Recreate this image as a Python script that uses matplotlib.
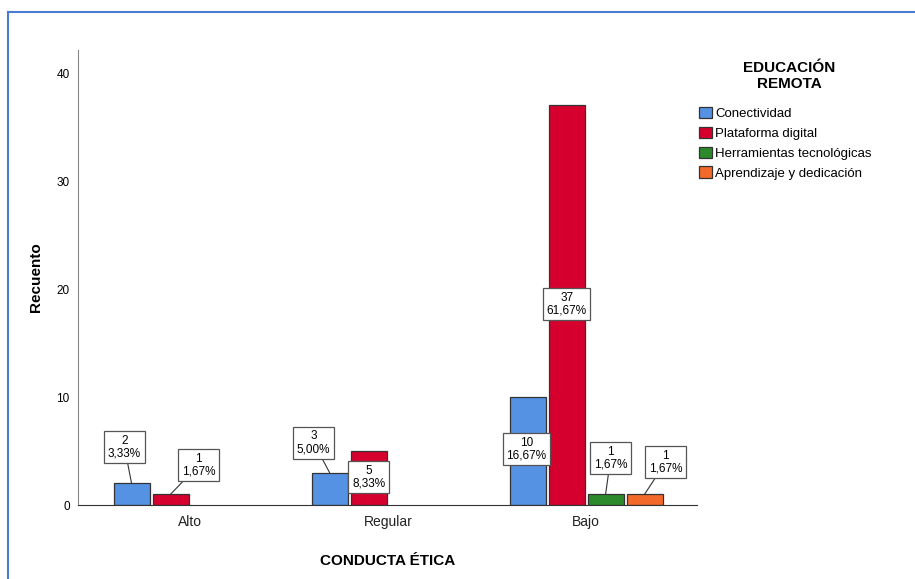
import matplotlib
matplotlib.use("Agg")
import matplotlib.pyplot as plt
from matplotlib.lines import Line2D
from matplotlib.patches import Patch

plt.rcParams['font.family'] = ['Liberation Sans', 'DejaVu Sans']

categories = ["Alto", "Regular", "Bajo"]
series = ["Conectividad", "Plataforma digital", "Herramientas tecnológicas", "Aprendizaje y dedicación"]
colors = ["#5592e3", "#d6002f", "#2c8a2c", "#f2692a"]

conectividad = [2, 3, 10]
plataforma = [1, 5, 37]
herramientas = [0, 0, 1]
aprendizaje = [0, 0, 1]
counts = [conectividad, plataforma, herramientas, aprendizaje]

pct_conectividad = ["3,33%", "5,00%", "16,67%"]
pct_plataforma = ["1,67%", "8,33%", "61,67%"]
pct_herramientas = ["", "", "1,67%"]
pct_aprendizaje = ["", "", "1,67%"]
pcts = [pct_conectividad, pct_plataforma, pct_herramientas, pct_aprendizaje]

# label box offsets (pixels, from bar top) and whether a leader line is drawn
label_offsets = {
    (0, 0): ((-7, 36), True), (1, 0): ((28, 29), True),
    (0, 1): ((-16, 30), True), (1, 1): ((0, -26), False),
    (0, 2): ((-1, -52), False), (1, 2): ((0, -199), False),
    (2, 2): ((5, 36), True), (3, 2): ((21, 32), True),
}

fig = plt.figure(figsize=(9.15, 5.79), dpi=100)
ax = fig.add_axes([78 / 915, 1 - 505 / 579, (697 - 78) / 915, (505 - 50) / 579])

slot = 39 / 198
width = 36 / 198
for j, (vals, col) in enumerate(zip(counts, colors)):
    for i, v in enumerate(vals):
        if v <= 0:
            continue
        x = i + (j - 1.5) * slot
        ax.bar(x, v, width=width, color=col, edgecolor="#333333", linewidth=0.9, zorder=2)
        (dx, dy), line = label_offsets[(j, i)]
        ax.annotate(f"{v}\n{pcts[j][i]}", xy=(x, v), xytext=(dx, dy),
                    textcoords="offset pixels", ha="center", va="center",
                    fontsize=8.5, linespacing=1.1, zorder=4,
                    bbox=dict(boxstyle="square,pad=0.3", fc="white", ec="#555555", lw=0.9),
                    arrowprops=dict(arrowstyle="-", color="#333333", lw=0.8, shrinkA=0, shrinkB=0) if line else None)

ax.set_xlim(-0.566, 2.56)
ax.set_ylim(0, 42.13)
ax.set_xticks(range(len(categories)))
ax.set_xticklabels(categories, fontsize=10, color="#222222")
ax.set_yticks([0, 10, 20, 30, 40])
ax.tick_params(axis="y", length=0, labelsize=8.5, pad=6)
ax.tick_params(axis="x", length=0, pad=7)
for s in ["top", "right"]:
    ax.spines[s].set_visible(False)
ax.spines["left"].set_color("#888888")
ax.spines["bottom"].set_color("#333333")
ax.set_ylabel("Recuento", fontsize=11, fontweight="bold", labelpad=10)
ax.set_xlabel("CONDUCTA ÉTICA", fontsize=11, fontweight="bold", labelpad=18)

fig.text(789 / 915, 1 - 76 / 579, "EDUCACIÓN\nREMOTA", ha="center", va="center",
         fontsize=11, fontweight="bold", linespacing=1.1)
handles = [Patch(facecolor=c, edgecolor="#333333", linewidth=0.9) for c in colors]
leg = fig.legend(handles, series, loc="upper left", bbox_to_anchor=(699 / 915, 1 - 107 / 579),
                 frameon=False, fontsize=9.5,
                 handlelength=0.95, handleheight=0.95, handletextpad=0.3,
                 labelspacing=0.5, borderpad=0, borderaxespad=0)

# blue frame around the chart
fx = 8 / 915
fy = 1 - 12 / 579
fig.add_artist(Line2D([fx, fx], [0, fy], color="#4a7bd0", lw=1.5, transform=fig.transFigure))
fig.add_artist(Line2D([fx, 1], [fy, fy], color="#4a7bd0", lw=1.5, transform=fig.transFigure))

fig.savefig("out.png", dpi=100)
